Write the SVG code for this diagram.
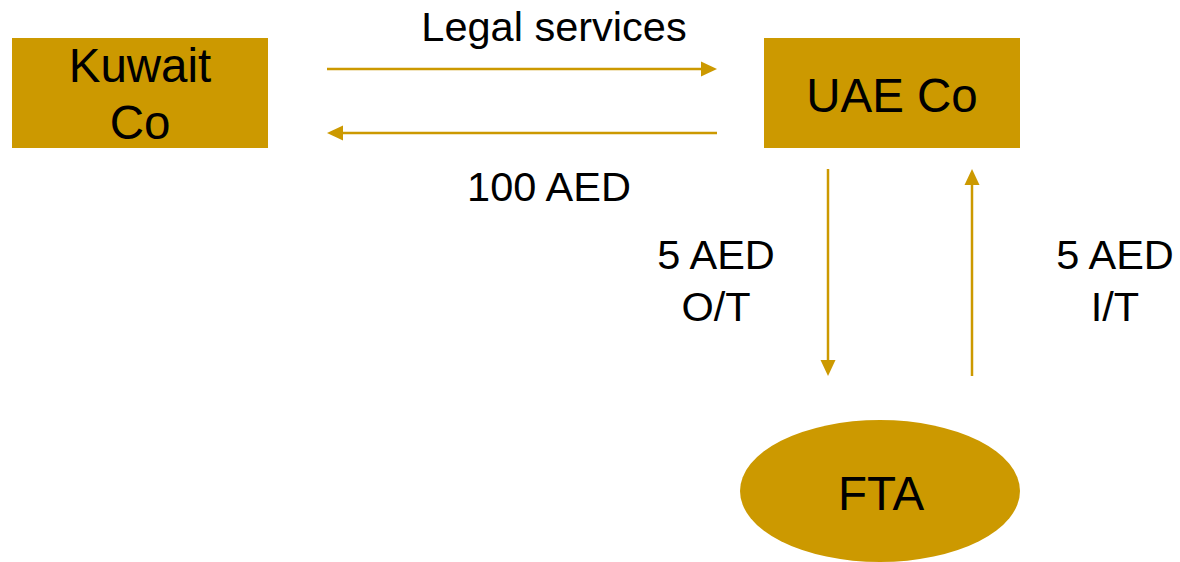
<svg xmlns="http://www.w3.org/2000/svg" width="1180" height="562" viewBox="0 0 1180 562">
  <style>
    .node { fill: #CC9900; }
    .label { font-family: "Liberation Sans", Arial, sans-serif; fill: #000000; text-anchor: middle; }
    .big { font-size: 47.5px; }
    .small { font-size: 41.5px; }
    .flow { stroke: #CC9900; stroke-width: 2.5; fill: none; marker-end: url(#head); }
  </style>
  <defs>
    <marker id="head" markerUnits="userSpaceOnUse" markerWidth="16" markerHeight="16" refX="8" refY="7.5" orient="auto" overflow="visible">
      <path d="M0,0 L16,7.5 L0,15 Z" fill="#CC9900"/>
    </marker>
  </defs>
  <rect width="1180" height="562" fill="#FFFFFF"/>

  <g id="kuwait-co">
    <rect class="node" x="12" y="38" width="256" height="110"/>
    <text class="label big" x="140" y="82">Kuwait</text>
    <text class="label big" x="140" y="139">Co</text>
  </g>

  <g id="uae-co">
    <rect class="node" x="764" y="38" width="256" height="110"/>
    <text class="label big" x="892" y="112">UAE Co</text>
  </g>

  <g id="fta">
    <ellipse class="node" cx="880" cy="491" rx="140" ry="71"/>
    <text class="label big" x="881" y="510">FTA</text>
  </g>

  <g id="connectors">
    <line class="flow" x1="327" y1="69" x2="709" y2="69"/>
    <line class="flow" x1="717" y1="133" x2="335" y2="133"/>
    <line class="flow" x1="828" y1="169" x2="828" y2="368"/>
    <line class="flow" x1="972" y1="376" x2="972" y2="177"/>
  </g>

  <g id="labels">
    <text class="label small" x="554" y="41">Legal services</text>
    <text class="label small" x="549" y="201">100 AED</text>
    <text class="label small" x="716" y="269">5 AED</text>
    <text class="label small" x="716" y="321">O/T</text>
    <text class="label small" x="1115" y="269">5 AED</text>
    <text class="label small" x="1115" y="321">I/T</text>
  </g>
</svg>
